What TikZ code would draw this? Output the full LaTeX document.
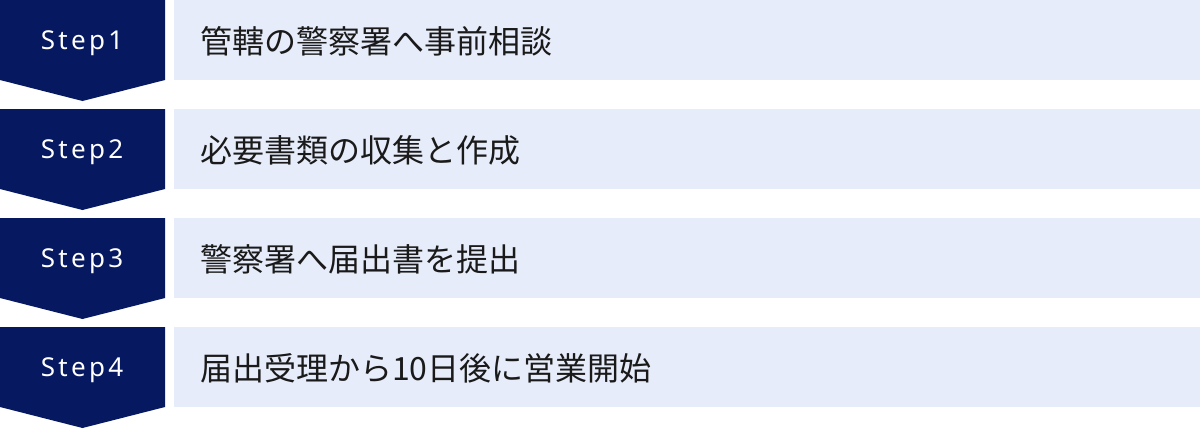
\documentclass[tikz,border=0pt]{standalone}
\usepackage{fontspec}
\newfontfamily\jpfont{Noto Sans CJK JP}
\newfontfamily\stepfont{Noto Sans}
\definecolor{navy}{RGB}{5,24,96}
\definecolor{paleblue}{RGB}{230,236,249}
\definecolor{ink}{RGB}{26,26,26}
\newcommand{\sk}{\kern3.3pt}
\tikzset{
  chevron/.style={fill=navy},
  stepbox/.style={fill=paleblue, draw=none, rectangle, minimum width=1026pt, minimum height=80pt, inner sep=0pt, anchor=north west},
  steplabel/.style={text=white, font=\stepfont\fontsize{26}{26}\selectfont, inner sep=0pt, anchor=base},
  desclabel/.style={text=ink, font=\jpfont\fontsize{32}{32}\selectfont, inner sep=0pt, anchor=west}
}
\begin{document}
\begin{tikzpicture}[x=1pt,y=-1pt]
\useasboundingbox (0,0) rectangle (1200,429);
\foreach \i/\t in {0/管轄の警察署へ事前相談,1/必要書類の収集と作成,2/警察署へ届出書を提出,3/届出受理から10日後に営業開始}{
  \pgfmathsetmacro{\top}{\i*109}
  \fill[chevron] (0,\top) -- (165,\top) -- (165,\top+80) -- (82.5,\top+101) -- (0,\top+80) -- cycle;
  \node[stepbox] (box\i) at (174,\top) {};
  \pgfmathtruncatemacro{\n}{\i+1}
  \node[steplabel] (step\i) at (82,\top+49) {S\sk t\sk e\sk p\sk\n};
  \node[desclabel] (desc\i) at (200,\top+41) {\t};
}
\end{tikzpicture}
\end{document}
